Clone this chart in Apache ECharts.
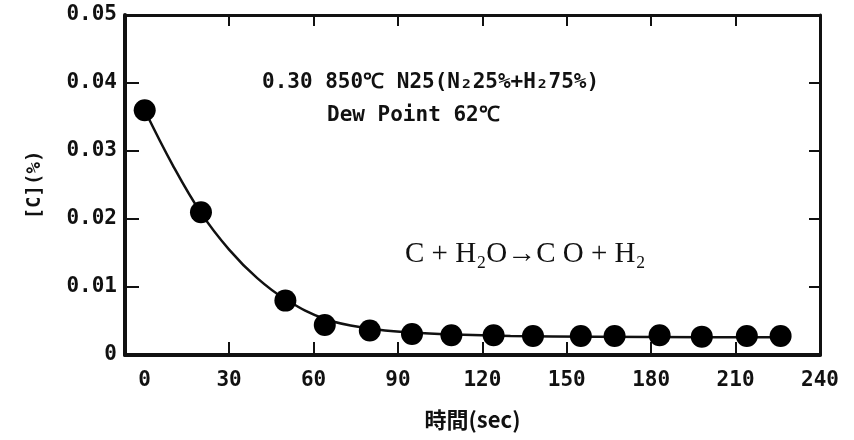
<!DOCTYPE html>
<html>
<head>
<meta charset="utf-8">
<script src="https://cdn.jsdelivr.net/npm/echarts@6/dist/echarts.min.js"></script>
<style>
  html, body { margin: 0; padding: 0; background: #fff; }
  #chart { width: 854px; height: 440px; }
</style>
</head>
<body>
<div id="chart"></div>
<script>
// ---- data ----
const pointTimes = [0, 20, 50, 64, 80, 95, 109, 124, 138, 155, 167, 183, 198, 214, 226];
const pointCarbon = [0.036, 0.021, 0.008, 0.0044, 0.0036, 0.0031, 0.0029, 0.0029, 0.0028, 0.0028, 0.0028, 0.0029, 0.0027, 0.0028, 0.0028];
const curveTimes = [0, 10, 20, 30, 40, 50, 64, 80, 95, 110, 130, 160, 200, 226];
const curveCarbon = [0.036, 0.0279, 0.0209, 0.0155, 0.0113, 0.0082, 0.0053, 0.0039, 0.0033, 0.003, 0.0028, 0.0027, 0.0026, 0.0026];
const xLabelValues = [0, 30, 60, 90, 120, 150, 180, 210, 240];
const xTickValues = [30, 60, 90, 120, 150, 180, 210];
const yTickValues = [0.01, 0.02, 0.03, 0.04];
const xMin = -7, xMax = 240;
const yMin = 0, yMax = 0.05, yStep = 0.01;
const xName = '時間(sec)';
const yName = '[C](%)';
const note1 = '0.30 850℃ N25(N₂25%+H₂75%)';
const note2 = 'Dew Point 62℃';
const note3 = 'C + H₂O→C O + H₂';

const pts = pointTimes.map((t, i) => [t, pointCarbon[i]]);
const curve = curveTimes.map((t, i) => [t, curveCarbon[i]]);

const labelFont = {
  color: '#111', fontFamily: 'DejaVu Sans Mono', fontWeight: 'bold', fontSize: 21
};

const chart = echarts.init(document.getElementById('chart'), null, { renderer: 'canvas' });
chart.setOption({
  animation: false,
  backgroundColor: '#fff',
  grid: { left: 125, right: 34, top: 15, bottom: 85 },
  xAxis: [{
    type: 'value', min: xMin, max: xMax, position: 'bottom',
    name: xName, nameLocation: 'middle', nameGap: 54,
    nameTextStyle: { color: '#111', fontFamily: 'Noto Sans CJK JP', fontWeight: 'bold', fontSize: 22 },
    axisLine: { show: true, onZero: false, lineStyle: { color: '#111', width: 4 } },
    axisTick: { show: true, inside: true, length: 13, customValues: xTickValues, lineStyle: { color: '#111', width: 2 } },
    axisLabel: Object.assign({ show: true, margin: 15, customValues: xLabelValues }, labelFont),
    splitLine: { show: false }
  }, {
    type: 'value', min: xMin, max: xMax, position: 'top',
    axisLine: { show: true, onZero: false, lineStyle: { color: '#111', width: 3 } },
    axisTick: { show: true, inside: true, length: 11, customValues: xTickValues, lineStyle: { color: '#111', width: 2 } },
    axisLabel: { show: false },
    splitLine: { show: false }
  }],
  yAxis: [{
    type: 'value', min: yMin, max: yMax, interval: yStep, position: 'left',
    name: yName, nameLocation: 'middle', nameGap: 80, nameRotate: 90,
    nameTextStyle: { color: '#111', fontFamily: 'DejaVu Sans Mono', fontWeight: 'bold', fontSize: 19 },
    axisLine: { show: true, onZero: false, lineStyle: { color: '#111', width: 4 } },
    axisTick: { show: true, inside: true, length: 14, customValues: yTickValues, lineStyle: { color: '#111', width: 2 } },
    axisLabel: Object.assign({ show: true, margin: 8,
      formatter: v => (Math.abs(v) < 1e-9 ? '0' : v.toFixed(2)) }, labelFont),
    splitLine: { show: false }
  }, {
    type: 'value', min: yMin, max: yMax, interval: yStep, position: 'right',
    axisLine: { show: true, onZero: false, lineStyle: { color: '#111', width: 3 } },
    axisTick: { show: true, inside: true, length: 11, customValues: yTickValues, lineStyle: { color: '#111', width: 2 } },
    axisLabel: { show: false },
    splitLine: { show: false }
  }],
  series: [{
    type: 'line', data: curve, smooth: 0.4, showSymbol: false, symbol: 'none',
    lineStyle: { color: '#111', width: 2.5 }, z: 2
  }, {
    type: 'scatter', data: pts, symbol: 'circle', symbolSize: 22,
    itemStyle: { color: '#000', opacity: 1 }, z: 3
  }],
  graphic: [{
    type: 'text', left: 262, top: 72,
    style: { text: note1, fill: '#111', font: 'bold 21px "DejaVu Sans Mono"' }
  }, {
    type: 'text', left: 327, top: 105,
    style: { text: note2, fill: '#111', font: 'bold 21px "DejaVu Sans Mono"' }
  }, {
    type: 'text', left: 405, top: 240,
    style: { text: note3, fill: '#111', font: '29px "Liberation Serif"' }
  }]
});
</script>
</body>
</html>
